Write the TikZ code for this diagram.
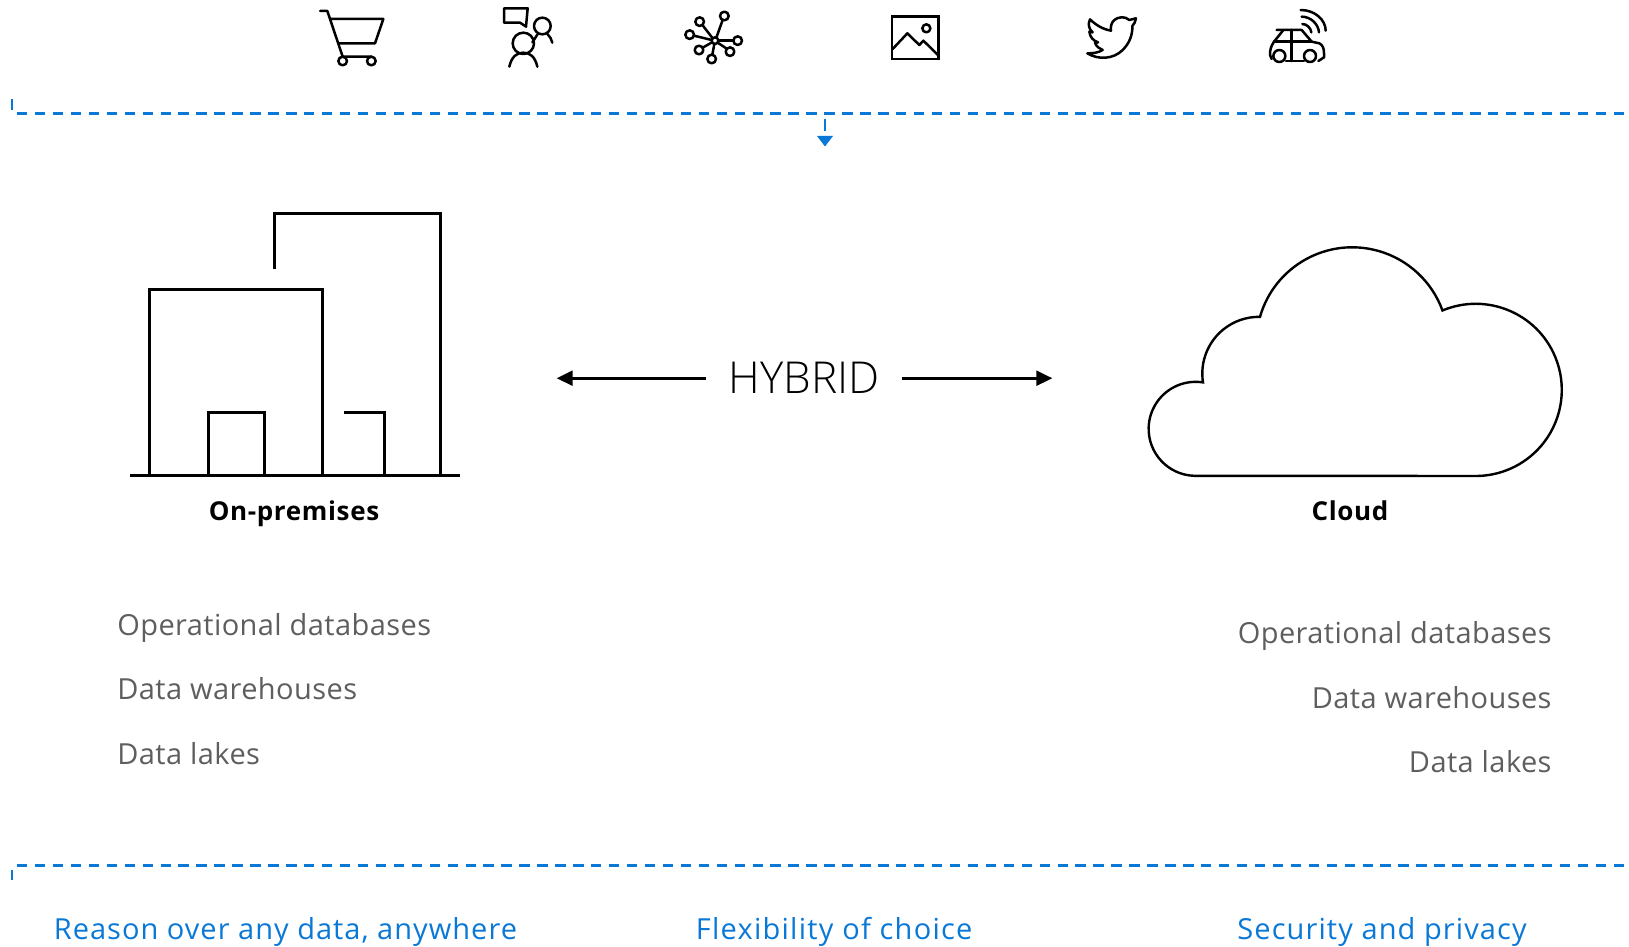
\documentclass[tikz,border=0pt]{standalone}
\usepackage{fontspec}
\setmainfont{Open Sans}
\usetikzlibrary{arrows.meta}
\definecolor{azure}{HTML}{0A78D7}
\definecolor{listgray}{HTML}{5E5E5E}
\newfontfamily\listfont[LetterSpace=1.4]{Open Sans}
\newfontfamily\bluefont[LetterSpace=3.5]{Open Sans}
\newfontfamily\bluefontb[LetterSpace=4.3]{Open Sans}
\newfontfamily\bluefontc[LetterSpace=3.8]{Open Sans}
\newfontfamily\headfont[LetterSpace=2.5]{Open Sans}
\newfontfamily\hybfont{Open Sans Light}
\tikzset{
 icon/.style={draw=black,line width=1.25pt,line join=round,line cap=round,fill=none},
 art/.style={draw=black,line width=1.4pt,line cap=butt,line join=miter},
 cloudline/.style={draw=black,line width=1.2pt,line join=miter},
 dashline/.style={draw=azure,line width=1.25pt,dash pattern=on 5.2pt off 3.77pt},
 solidblue/.style={draw=azure,line width=1.25pt},
 listtext/.style={inner sep=0pt,text=listgray,font=\fontsize{14.5pt}{17pt}\listfont},
 headtext/.style={inner sep=0pt,text=black,font=\fontsize{13pt}{16pt}\headfont\bfseries,anchor=base},
 bluetext/.style={inner sep=0pt,text=azure,font=\fontsize{14.5pt}{17pt}\bluefont,anchor=base west},
 hyblabel/.style={inner sep=0pt,text=black,font=\fontsize{22pt}{25pt}\hybfont,anchor=base},
 hybarrow/.style={draw=black,line width=1.3pt,-{Triangle[length=8pt,width=7.5pt]}},
 iconbox/.style={x=0.16667pt,y=-0.16667pt}
}
\begin{document}
\begin{tikzpicture}[x=0.5pt,y=-0.5pt]
\useasboundingbox (0,0) rectangle (1629,947);
% dashed rules
\coordinate (topA) at (17,113.5); \coordinate (topB) at (1629,113.5);
\coordinate (tickA) at (12,99.3); \coordinate (tickB) at (12,110);
\draw[dashline] (topA) -- (topB);
\draw[solidblue] (tickA) -- (tickB);
\coordinate (downA) at (825,119); \coordinate (downB) at (825,130.7);
\draw[solidblue] (downA) -- (downB);
\fill[azure] (817,136) -- (833,136) -- (825,146.5) -- cycle;
\coordinate (botA) at (17,865.5); \coordinate (botB) at (1629,865.5);
\coordinate (btickA) at (12,869.5); \coordinate (btickB) at (12,879.5);
\draw[dashline] (botA) -- (botB);
\draw[solidblue] (btickA) -- (btickB);
% cart
\begin{scope}[shift={(300,0)},iconbox]
\draw[icon] (60,33) -- (82,33) -- (128,170) -- (215,170);
\draw[icon] (93,57) -- (250,57) -- (225,130) -- (115,130);
\draw[icon] (128,183) circle[radius=13];
\draw[icon] (214,183) circle[radius=13];
% people
\draw[icon] (612,25) -- (683,25) -- (678,80) -- (660,68) -- (612,68) -- cycle;
\draw[icon] (727,78) circle[radius=25];
\draw[icon] (670,130) circle[radius=32];
\draw[icon] (628,200) .. controls (635,170) and (650,158) .. (670,158) .. controls (690,158) and (705,170) .. (712,200);
\draw[icon] (742,102) .. controls (750,108) and (754,118) .. (757,128);
\draw[icon] (697,127) -- (712,104);
\end{scope}
% network and picture
\begin{scope}[shift={(670,0)},iconbox]
\draw[icon] (135,122) circle[radius=10];
\foreach \px/\py in {163/48,89/65,59/104,87/150,125/177,180/155,203/122}{
 \draw[icon] (\px,\py) circle[radius=13];
}
\draw[icon] (139,113) -- (158,60);
\draw[icon] (128,115) -- (98,76);
\draw[icon] (125,120) -- (72,107);
\draw[icon] (126,127) -- (98,143);
\draw[icon] (133,132) -- (127,164);
\draw[icon] (143,128) -- (170,146);
\draw[icon] (145,122) -- (190,122);
\draw[icon,line cap=butt,line join=miter] (666,50) rectangle (806,177);
\draw[icon] (769,85) circle[radius=12];
\draw[icon] (668,147) -- (712,100) -- (748,135) -- (760,122) -- (805,166);
\end{scope}
% bird and car
\begin{scope}[shift={(1070,0)},iconbox]
\draw[icon] (198,55) -- (178,60) .. controls (165,48) and (145,50) .. (133,60) .. controls (124,68) and (121,80) .. (123,92) .. controls (100,88) and (78,76) .. (60,58) .. controls (52,75) and (58,88) .. (68,97) -- (58,95) .. controls (60,112) and (70,122) .. (84,127) -- (75,129) .. controls (80,140) and (88,146) .. (98,150) .. controls (85,158) and (70,160) .. (52,160) .. controls (85,180) and (130,178) .. (158,150) .. controls (178,130) and (188,105) .. (187,78) .. controls (192,72) and (197,65) .. (198,55) -- cycle;
\draw[icon] (620,90) -- (695,90) -- (725,125) -- (748,130) .. controls (758,135) and (762,145) .. (762,160) -- (762,172) -- (745,183);
\draw[icon] (640,90) -- (612,125) .. controls (602,140) and (600,150) .. (600,165) -- (605,177);
\draw[icon] (612,125) -- (725,125);
\draw[icon] (665,90) -- (665,183);
\draw[icon] (648,183) -- (702,183);
\draw[icon] (628,168) circle[radius=18];
\draw[icon] (720,168) circle[radius=18];
\draw[icon] (692,30) .. controls (735,30) and (767,60) .. (767,92);
\draw[icon] (695,50) .. controls (722,50) and (745,72) .. (747,97);
\draw[icon] (697,72) .. controls (712,72) and (722,85) .. (724,97);
\end{scope}
% buildings
\draw[art] (274.5,269) -- (274.5,213.5) -- (440.5,213.5) -- (440.5,475.5);
\draw[art] (149.5,475.5) -- (149.5,289.5) -- (322.5,289.5) -- (322.5,475.5);
\draw[art] (208.5,475.5) -- (208.5,412.5) -- (264.5,412.5) -- (264.5,475.5);
\draw[art] (344,412.5) -- (384.5,412.5) -- (384.5,475.5);
\draw[art] (130,475.5) -- (460,475.5);
% cloud
\draw[cloudline] (1194,475.8) arc[start angle=92,end angle=279,radius=47]
 arc[start angle=171,end angle=271,radius=56.7]
 arc[start angle=196,end angle=340,radius=96]
 arc[start angle=247.3,end angle=449,radius=86.1] -- cycle;
% labels
\node[headtext] (onprem) at (294,520.5) {On-premises};
\node[headtext] (cloudlabel) at (1350,520.5) {Cloud};
\node[hyblabel] (hybrid) at (804,393.2) {HYBRID};
\coordinate (hybL) at (705.7,378.2); \coordinate (tipL) at (556.7,378.2);
\coordinate (hybR) at (902,378.2); \coordinate (tipR) at (1052.3,378.2);
\draw[hybarrow] (hybL) -- (tipL);
\draw[hybarrow] (hybR) -- (tipR);
\node[listtext,anchor=base west] (l1) at (117,635) {Operational databases};
\node[listtext,anchor=base west] (l2) at (117,699) {Data warehouses};
\node[listtext,anchor=base west] (l3) at (117,764.5) {Data lakes};
\node[listtext,anchor=base east] (r1) at (1552,643) {Operational databases};
\node[listtext,anchor=base east] (r2) at (1552,708) {Data warehouses};
\node[listtext,anchor=base east] (r3) at (1552,772) {Data lakes};
\node[bluetext] (b1) at (53.5,939.3) {Reason over any data, anywhere};
\node[bluetext,font=\fontsize{14.5pt}{17pt}\bluefontb] (b2) at (695.5,939.3) {Flexibility of choice};
\node[bluetext,font=\fontsize{14.5pt}{17pt}\bluefontc] (b3) at (1237,939.3) {Security and privacy};
\end{tikzpicture}
\end{document}
